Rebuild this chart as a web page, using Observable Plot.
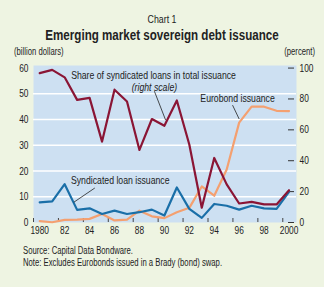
<!DOCTYPE html>
<html>
<head>
<meta charset="utf-8">
<script src="https://cdn.jsdelivr.net/npm/d3@7"></script>
<script src="https://cdn.jsdelivr.net/npm/@observablehq/plot@0.6"></script>
<style>
  html, body { margin: 0; padding: 0; background: #eef4e2; }
  #wrap { position: relative; width: 324px; height: 287px; overflow: hidden;
    font-family: "Liberation Sans", Arial, sans-serif; color: #222; }
  #wrap svg { position: absolute; left: 0; top: 0; }
  .t { position: absolute; white-space: nowrap; line-height: 1; }
  .c { left: 0; width: 324px; text-align: center; transform: scaleX(0.8); transform-origin: 162px 0; }
  .l { transform: scaleX(0.77); transform-origin: 0 0; }
  .r { transform: scaleX(0.77); transform-origin: 100% 0; }
</style>
</head>
<body>
<div id="wrap">
  <div class="t c" style="top:14px;font-size:11px;">Chart 1</div>
  <div class="t c" style="top:28px;font-size:14.5px;font-weight:bold;">Emerging market sovereign debt issuance</div>
  <div class="t l" style="left:14px;top:47px;font-size:10px;">(billion dollars)</div>
  <div class="t r" style="right:9px;top:47px;font-size:10px;">(percent)</div>
  <div class="t l" style="left:23px;top:246px;font-size:10px;">Source: Capital Data Bondware.</div>
  <div class="t l" style="left:23px;top:258px;font-size:10px;">Note: Excludes Eurobonds issued in a Brady (bond) swap.</div>
</div>
<script>
const years = [1980,1981,1982,1983,1984,1985,1986,1987,1988,1989,1990,1991,1992,1993,1994,1995,1996,1997,1998,1999,2000];
// billion dollars (left scale)
const syndicatedLoans = [7.8,8.2,14.9,4.9,5.5,3.3,4.6,3.3,4.0,5.0,2.7,13.6,5.3,1.8,7.2,6.5,5.0,6.5,5.5,5.3,11.9];
const eurobonds = [0.5,0.1,1.0,1.1,1.4,3.3,0.8,1.1,4.6,2.4,1.7,4.0,5.7,14.0,10.4,20.6,38.8,45.0,45.0,43.4,43.3];
// percent (right scale)
const syndicatedShare = [96.7,98.8,94.0,79.4,80.7,52.4,86.0,78.4,47.0,67.0,62.6,79.0,50.5,9.6,41.8,24.7,12.3,13.4,11.7,11.7,20.9];

const xTicks = [1980,1982,1984,1986,1988,1990,1992,1994,1996,1998,2000];
const xTickLabels = ["1980","82","84","86","88","90","92","94","96","98","2000"];
const leftTicks = [0,10,20,30,40,50,60];
const gridValues = [10,20,30,40,50];
const rightTicks = [0,20,40,60,80,100];

const leftMax = 60, rightMax = 100;
const toLeft = v => v * leftMax / rightMax;

// annotation anchors (data units)
const labels = [
  {x: 1989.13, y: 57.0, text: "Share of syndicated loans in total issuance", italic: false},
  {x: 1989.2, y: 52.4, text: "(right scale)", italic: true},
  {x: 1995.87, y: 48.2, text: "Eurobond issuance", italic: false},
  {x: 1986.46, y: 16.2, text: "Syndicated loan issuance", italic: false}
];
const leaders = [
  {x1: 1989.2, y1: 51.0, x2: 1990.1, y2: 39.8},
  {x1: 1995.47, y1: 45.6, x2: 1996.0, y2: 40.2},
  {x1: 1984.42, y1: 13.4, x2: 1982.73, y2: 7.85}
];

const blue = years.map((y, i) => ({year: y, v: syndicatedLoans[i]}));
const orange = years.map((y, i) => ({year: y, v: eurobonds[i]}));
const red = years.map((y, i) => ({year: y, v: toLeft(syndicatedShare[i])}));
const tickLabelMap = new Map(xTicks.map((d, i) => [d, xTickLabels[i]]));

const FONT = '"Liberation Sans", Arial, sans-serif';

const chart = Plot.plot({
  width: 324, height: 287,
  marginTop: 65, marginBottom: 65, marginLeft: 33, marginRight: 28,
  style: {background: "transparent", fontFamily: FONT, fontSize: "11px", color: "#222"},
  x: {domain: [1979.5, 2000.6]},
  y: {domain: [0, 61]},
  marks: [
    Plot.frame({fill: "#cde0f2", stroke: null}),
    Plot.ruleY(gridValues, {stroke: "white", strokeWidth: 1.6}),
    Plot.axisX(xTicks, {tickSize: 0, tickPadding: 4, label: null, tickFormat: d => tickLabelMap.get(d), fontSize: 11}),
    Plot.tickX(xTicks.map(d => d - 0.5), {insetTop: 153, stroke: "#444"}),
    Plot.axisY(leftTicks, {anchor: "left", tickSize: 0, tickPadding: 5, label: null, fontSize: 11}),
    Plot.axisY(rightTicks.map(toLeft), {anchor: "right", tickSize: 0, tickPadding: 3, label: null, fontSize: 11,
      tickFormat: d => String(Math.round(d * rightMax / leftMax))}),
    Plot.tickY(rightTicks.map(toLeft), {insetLeft: 255, insetRight: 2, stroke: "#333"}),
    Plot.line(orange, {x: "year", y: "v", stroke: "#f4a070", strokeWidth: 2.2}),
    Plot.line(blue, {x: "year", y: "v", stroke: "#1a6fa8", strokeWidth: 2.2}),
    Plot.line(red, {x: "year", y: "v", stroke: "#8a1535", strokeWidth: 2.2}),
    Plot.link(leaders, {x1: "x1", y1: "y1", x2: "x2", y2: "y2", stroke: "#222", strokeWidth: 0.8}),
    Plot.text(labels.filter(d => !d.italic), {x: "x", y: "y", text: "text", fontSize: 10.5, fill: "#222"}),
    Plot.text(labels.filter(d => d.italic), {x: "x", y: "y", text: "text", fontSize: 10.5, fontStyle: "italic", fill: "#222"})
  ]
});
// condense the SVG text horizontally (Helvetica Condensed look) around each text's anchor
d3.select(chart).selectAll("text").each(function() {
  const t = this.getAttribute("transform");
  const isAnnotation = this.parentNode && this.parentNode.getAttribute("aria-label") === "text";
  if (t) this.setAttribute("transform", t + (isAnnotation ? " scale(0.83,1)" : " scale(0.76,1)"));
});
document.getElementById("wrap").prepend(chart);
</script>
</body>
</html>
